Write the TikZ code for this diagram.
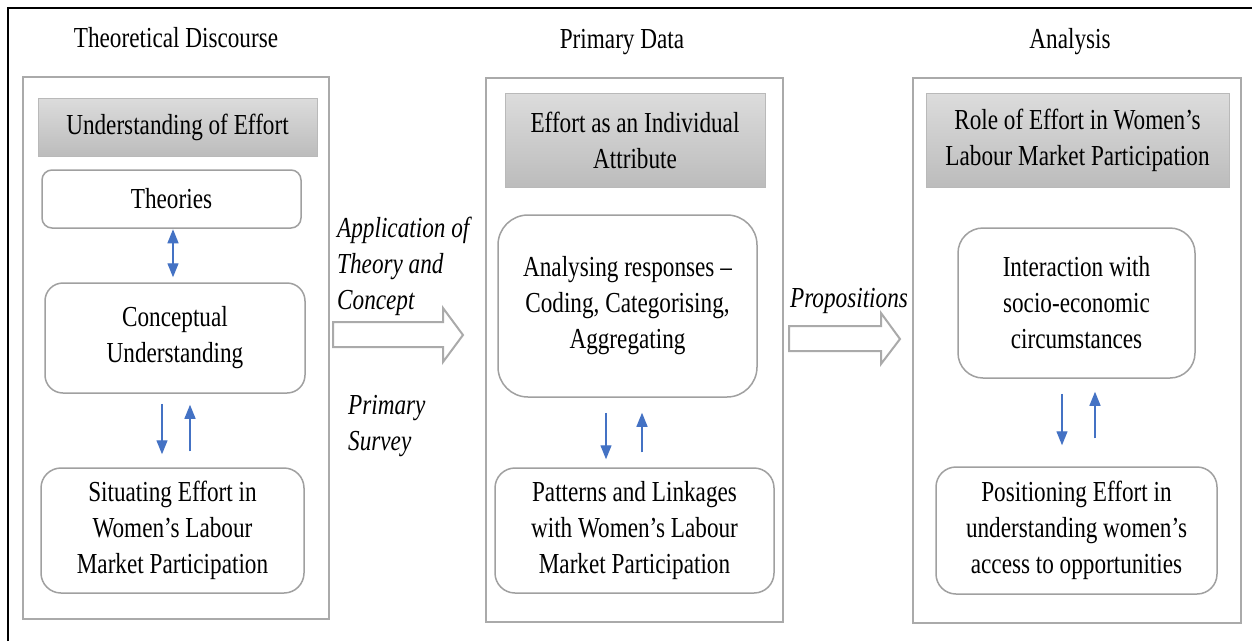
\documentclass[tikz,border=0pt]{standalone}
\usepackage{fontspec}
\setmainfont{Liberation Serif}[FakeStretch=0.8]
\usetikzlibrary{arrows.meta,shadings}
\definecolor{panelgray}{RGB}{170,170,170}
\definecolor{boxgray}{RGB}{160,160,160}
\definecolor{headtop}{RGB}{220,220,220}
\definecolor{headbot}{RGB}{188,188,188}
\definecolor{headline}{RGB}{185,185,185}
\definecolor{bluearr}{RGB}{68,114,196}
\tikzset{
  txt/.style={font=\fontsize{29}{36}\selectfont, align=center, inner sep=0pt},
  itl/.style={font=\fontsize{29}{36}\selectfont\itshape, align=left, inner sep=0pt},
  panel/.style={draw=panelgray, line width=2pt, fill=white},
  headbox/.style={txt, draw=headline, line width=1pt, top color=headtop, bottom color=headbot},
  rbox/.style={txt, draw=boxgray, line width=1.5pt, fill=white},
  barrow/.style={draw=bluearr, line width=1.3pt, -{Triangle[width=11pt,length=14pt]}},
  bdarrow/.style={draw=bluearr, line width=1.3pt, {Triangle[width=11pt,length=14pt]}-{Triangle[width=11pt,length=14pt]}},
  blockarrow/.style={draw=panelgray, line width=2pt, fill=white, line join=miter}
}
\begin{document}
\begin{tikzpicture}[x=1pt,y=-1pt]
\useasboundingbox (0,0) rectangle (1252,641);
% outer frame (top and left edges)
\draw[line width=2.5pt] (8,641) -- (8,8) -- (1252,8);

% titles
\node[txt] (tL) at (176,38) {Theoretical Discourse};
\node[txt] (tM) at (622,42) {Primary Data};
\node[txt] (tR) at (1070,42) {Analysis};

% panels
\node[panel, minimum width=306, minimum height=542] (pL) at (176,348) {};
\node[panel, minimum width=297, minimum height=544] (pM) at (634.5,350) {};
\node[panel, minimum width=328, minimum height=545] (pR) at (1077,350.5) {};

% headers
\node[headbox, minimum width=279, minimum height=58] (hL) at (177.5,127) {Understanding of Effort};
\node[headbox, minimum width=260, minimum height=94] (hM) at (635,140) {Effort as an Individual\\Attribute};
\node[headbox, minimum width=303, minimum height=94] (hR) at (1077.5,140) {Role of Effort in Women’s\\Labour Market Participation};

% left column boxes
\node[rbox, rounded corners=10pt, minimum width=259, minimum height=58] (theo) at (171.5,199) {Theories};
\node[rbox, rounded corners=18pt, minimum width=260, minimum height=110] (conc) at (175,338) {Conceptual\\Understanding};
\node[rbox, rounded corners=20pt, minimum width=263, minimum height=125] (sit) at (172.5,530.5) {Situating Effort in\\Women’s Labour\\Market Participation};

% middle column boxes
\node[rbox, rounded corners=30pt, minimum width=259, minimum height=182] (anal) at (627.5,306) {Analysing responses –\\Coding, Categorising,\\Aggregating};
\node[rbox, rounded corners=20pt, minimum width=279, minimum height=125] (patt) at (634.5,530.5) {Patterns and Linkages\\with Women’s Labour\\Market Participation};

% right column boxes
\node[rbox, rounded corners=25pt, minimum width=237, minimum height=150] (inter) at (1076.5,303) {Interaction with\\socio-economic\\circumstances};
\node[rbox, rounded corners=20pt, minimum width=281, minimum height=127] (pos) at (1076.5,530.5) {Positioning Effort in\\understanding women’s\\access to opportunities};

% blue arrows
\draw[bdarrow, shorten <=0.5pt, shorten >=5pt] ([xshift=1.5pt]theo.south) -- ([xshift=-2pt]conc.north);
\draw[barrow, shorten <=10pt, shorten >=13pt] ([xshift=-13pt]conc.south) -- ([xshift=-10.5pt]sit.north);
\draw[barrow, shorten <=16pt, shorten >=11pt] ([xshift=17.5pt]sit.north) -- ([xshift=15pt]conc.south);

\draw[barrow, shorten <=15pt, shorten >=8pt] ([xshift=-21.5pt]anal.south) -- ([xshift=-28.5pt]patt.north);
\draw[barrow, shorten <=15pt, shorten >=15pt] ([xshift=7.5pt]patt.north) -- ([xshift=14.5pt]anal.south);

\draw[barrow, shorten <=15pt, shorten >=21pt] ([xshift=-14.5pt]inter.south) -- ([xshift=-14.5pt]pos.north);
\draw[barrow, shorten <=28pt, shorten >=13pt] ([xshift=18.5pt]pos.north) -- ([xshift=18.5pt]inter.south);

% block arrows
\draw[blockarrow] (333,322) -- (443,322) -- (443,308) -- (463,335) -- (443,362) -- (443,347) -- (333,347) -- cycle;
\draw[blockarrow] (789,326) -- (881,326) -- (881,313) -- (900,339) -- (881,364) -- (881,351) -- (789,351) -- cycle;

% italic labels
\node[itl, anchor=west] (app) at (337,266) {Application of\\Theory and\\Concept};
\node[itl, anchor=west] (prs) at (348,426) {Primary\\Survey};
\node[itl] (prop) at (849,301) {Propositions};
\end{tikzpicture}
\end{document}
